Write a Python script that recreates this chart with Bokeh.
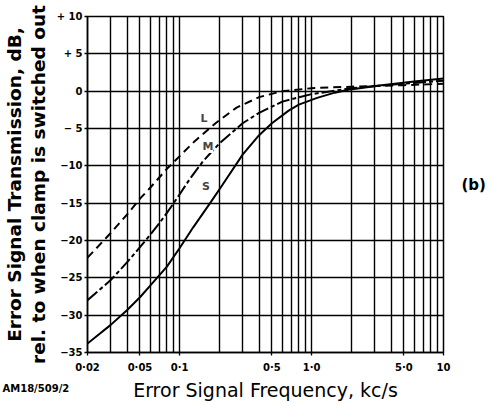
from bokeh.plotting import figure
from bokeh.models import FixedTicker, Label, Range1d, LinearAxis, Title
from bokeh.embed import file_html
from bokeh.resources import INLINE

# ---- data ----
freq_L = [0.02, 0.03, 0.04, 0.05, 0.06, 0.08, 0.1, 0.13, 0.19, 0.27, 0.4, 0.6, 1.0, 2.0, 5.0, 10.0]
db_L = [-22.3, -19.0, -16.5, -14.4, -12.9, -10.4, -8.7, -6.7, -4.2, -2.2, -0.8, 0.0, 0.4, 0.6, 0.8, 1.0]

freq_M = [0.02, 0.03, 0.04, 0.05, 0.06, 0.07, 0.08, 0.09, 0.1, 0.12, 0.15, 0.2, 0.3, 0.4, 0.6, 1.0, 2.0, 5.0, 10.0]
db_M = [-28.0, -25.3, -22.9, -20.9, -19.2, -17.7, -16.3, -15.0, -13.8, -11.7, -9.4, -7.0, -4.3, -2.9, -1.4, -0.4, 0.4, 1.0, 1.4]

freq_S = [0.02, 0.03, 0.04, 0.05, 0.06, 0.08, 0.1, 0.127, 0.17, 0.21, 0.3, 0.4, 0.5, 0.67, 0.8, 1.1, 1.5, 1.9, 3.4, 6.0, 10.0]
db_S = [-33.8, -31.3, -29.3, -27.6, -26.0, -23.5, -21.0, -18.2, -15.0, -12.6, -8.5, -5.9, -4.3, -2.6, -1.8, -0.9, -0.2, 0.2, 0.8, 1.3, 1.7]

curve_names = ["L", "M", "S"]
curve_label_freq = [0.153, 0.164, 0.158]
curve_label_db = [-3.65, -7.4, -12.8]

x_ticks = [0.02, 0.05, 0.1, 0.5, 1.0, 5.0, 10.0]
x_tick_labels = ["0·02", "0·05", "0·1", "0·5", "1·0", "5·0", "10"]
y_ticks = [-35, -30, -25, -20, -15, -10, -5, 0, 5, 10]
y_tick_labels = ["−35", "−30", "−25", "−20", "−15", "−10", "− 5", "0", "+ 5", "+ 10"]
x_grid = [0.02, 0.03, 0.04, 0.05, 0.06, 0.07, 0.08, 0.09,
          0.1, 0.2, 0.3, 0.4, 0.5, 0.6, 0.7, 0.8, 0.9,
          1.0, 2.0, 3.0, 4.0, 5.0, 6.0, 7.0, 8.0, 9.0, 10.0]

FONT = "DejaVu Sans"

p = figure(width=489, height=403, x_axis_type="log",
           x_range=Range1d(0.02, 10), y_range=Range1d(-35, 10),
           output_backend="svg", toolbar_location=None,
           min_border_left=83, min_border_right=46,
           min_border_top=16, min_border_bottom=51)

p.background_fill_color = "white"
p.border_fill_color = "white"
p.outline_line_color = "black"
p.outline_line_width = 1.5

# grid
p.xgrid.ticker = FixedTicker(ticks=x_grid)
p.ygrid.ticker = FixedTicker(ticks=y_ticks)
for g in (p.xgrid, p.ygrid):
    g.grid_line_color = "black"
    g.grid_line_width = 1.4
    g.grid_line_alpha = 1.0

# axes
p.xaxis.ticker = FixedTicker(ticks=x_ticks)
p.xaxis.major_label_overrides = {t: s for t, s in zip(x_ticks, x_tick_labels)}
p.yaxis.ticker = FixedTicker(ticks=y_ticks)
p.yaxis.major_label_overrides = {t: s for t, s in zip(y_ticks, y_tick_labels)}
for ax in (p.xaxis, p.yaxis):
    ax.axis_line_color = "black"
    ax.axis_line_width = 1.5
    ax.major_tick_line_color = "black"
    ax.major_tick_line_width = 1.3
    ax.major_tick_out = 3
    ax.major_tick_in = 0
    ax.minor_tick_out = 0
    ax.minor_tick_in = 0
    ax.major_label_text_font = FONT
    ax.major_label_text_font_style = "bold"
    ax.major_label_text_font_size = "10px"
    ax.major_label_text_color = "black"
    ax.axis_label_text_font = FONT
    ax.axis_label_text_color = "black"
    ax.axis_label_text_font_style = "normal"

p.xaxis.major_label_standoff = 6
p.xaxis.axis_label = "Error Signal Frequency, kc/s"
p.xaxis.axis_label_text_font_size = "19px"
p.xaxis.axis_label_standoff = 3

p.yaxis.major_label_standoff = 2
p.yaxis.axis_label = "Error Signal Transmission, dB,\nrel. to when clamp is switched out"
p.yaxis.axis_label_text_font_size = "18.5px"
p.yaxis.axis_label_text_font_style = "bold"
p.yaxis.axis_label_text_line_height = 1.15
p.yaxis.axis_label_standoff = 5

# "(b)" on the right as an axis title
right_ax = LinearAxis(ticker=FixedTicker(ticks=[]), axis_label="(b)",
                      axis_line_color=None, major_tick_line_color=None,
                      minor_tick_line_color=None, major_label_text_font_size="0px",
                      axis_label_orientation="horizontal", axis_label_standoff=18,
                      axis_label_text_font=FONT, axis_label_text_font_style="bold",
                      axis_label_text_font_size="15px", axis_label_text_color="black")
p.add_layout(right_ax, "right")

# reference code at the bottom left, pulled up beside the axis title
ref_code = Title(text="AM18/509/2", align="left", vertical_align="top",
                 offset=-85, standoff=-42, text_font=FONT, text_font_style="bold",
                 text_font_size="10px", text_color="black")
p.add_layout(ref_code, "below")

# curves
p.line(freq_L, db_L, line_color="black", line_width=2, line_dash="8 5")
p.line(freq_M, db_M, line_color="black", line_width=2, line_dash="13 3 4 3")
p.line(freq_S, db_S, line_color="black", line_width=2)

for name, fx, fy in zip(curve_names, curve_label_freq, curve_label_db):
    p.add_layout(Label(x=fx, y=fy, text=name, text_font=FONT, text_font_style="bold",
                       text_font_size="11px", text_align="center", text_baseline="middle",
                       background_fill_color="white", background_fill_alpha=1.0))

open("out.html", "w").write(file_html(p, INLINE))
